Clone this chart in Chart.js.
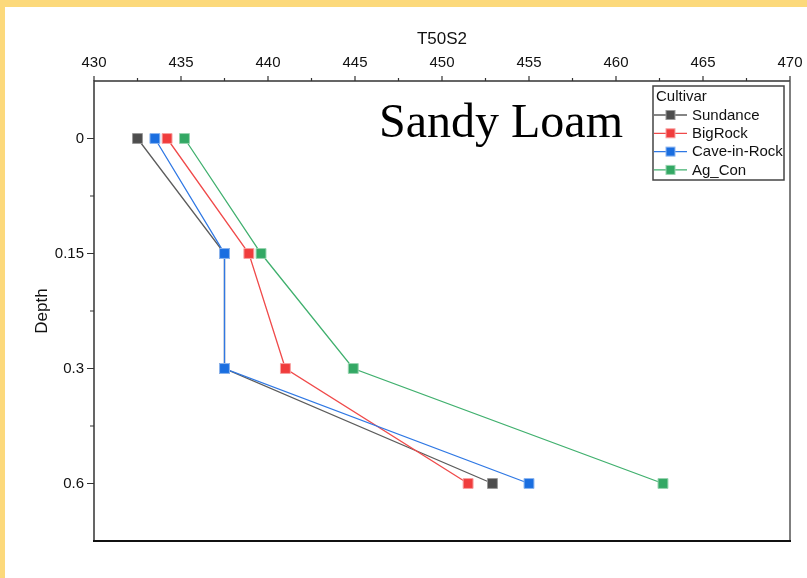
<!DOCTYPE html>
<html>
<head>
<meta charset="utf-8">
<title>T50S2 - Sandy Loam</title>
<script src="https://cdn.jsdelivr.net/npm/chart.js@4.4.1/dist/chart.umd.min.js"></script>
<style>
    html, body { margin: 0; padding: 0; background: #ffffff; }
    #frame {
        position: absolute; left: 0; top: 0;
        width: 807px; height: 578px; box-sizing: border-box;
        border-top: 7px solid #fcd97b; border-left: 5px solid #fcd97b;
        background: #ffffff;
    }
    canvas { display: block; }
</style>
</head>
<body>
<div id="frame"><canvas id="chart" width="802" height="571"></canvas></div>
<script>
// ---------------------------------------------------------------------------
// Data
// ---------------------------------------------------------------------------

const depths = ["0", "0.15", "0.3", "0.6"];
const cultivars = ["Sundance", "BigRock", "Cave-in-Rock", "Ag_Con"];
const sundance = [432.5, 437.5, 437.5, 452.9];
const bigRock = [434.2, 438.9, 441.0, 451.5];
const caveInRock = [433.5, 437.5, 437.5, 455.0];
const agCon = [435.2, 439.6, 444.9, 462.7];
const xTicks = [430, 435, 440, 445, 450, 455, 460, 465, 470];

const lineColors = ["#5c5c5c", "#f04a4a", "#2f78e4", "#40b06e"];
const markerColors = ["#4d4d4d", "#f03c3c", "#1a6ee0", "#33a864"];
const markerEdges = ["#9a9a9a", "#f8a0a0", "#8db6f0", "#98d4b0"];

const FONT = "'Liberation Sans', Arial, sans-serif";

function toPoints(values) {
    return values.map((v, i) => ({ x: v, y: depths[i] }));
}

const seriesValues = [sundance, bigRock, caveInRock, agCon];
// Cave-in-Rock sits on top of Sundance where they overlap
const drawOrder = [3, 2, 0, 1];

const datasets = cultivars.map((name, i) => ({
    label: name,
    data: toPoints(seriesValues[i]),
    borderColor: lineColors[i],
    borderWidth: 1.3,
    pointStyle: "rect",
    pointRadius: 7,
    pointBackgroundColor: markerColors[i],
    pointBorderColor: markerEdges[i],
    pointBorderWidth: 1,
    tension: 0,
    fill: false,
    order: drawOrder[i],
}));

// ---------------------------------------------------------------------------
// Plugins: frame + ticks, legend box, annotation text
// ---------------------------------------------------------------------------

const frameTicks = {
    id: "frameTicks",
    afterDraw(chart) {
        const { ctx, chartArea: a } = chart;
        const xs = chart.scales.x;
        const ys = chart.scales.y;
        ctx.save();
        ctx.strokeStyle = "#333333";
        ctx.lineWidth = 1.2;
        ctx.beginPath();
        for (let v = 430; v <= 470; v += 2.5) {
            const px = xs.getPixelForValue(v);
            const len = v % 5 === 0 ? 5 : 3;
            ctx.moveTo(px, a.top);
            ctx.lineTo(px, a.top - len);
        }
        for (let i = 0; i <= 3; i += 0.5) {
            const py = ys.getPixelForValue(i);
            const len = Number.isInteger(i) ? 7 : 4;
            ctx.moveTo(a.left, py);
            ctx.lineTo(a.left - len, py);
        }
        ctx.stroke();

        // box
        ctx.lineWidth = 1.5;
        ctx.strokeStyle = "#333333";
        ctx.beginPath();
        ctx.moveTo(a.left, a.bottom);
        ctx.lineTo(a.left, a.top);
        ctx.lineTo(a.right, a.top);
        ctx.stroke();
        ctx.strokeStyle = "#555555";
        ctx.beginPath();
        ctx.moveTo(a.right, a.top);
        ctx.lineTo(a.right, a.bottom);
        ctx.stroke();
        ctx.lineWidth = 2;
        ctx.strokeStyle = "#111111";
        ctx.beginPath();
        ctx.moveTo(a.left - 1, a.bottom);
        ctx.lineTo(a.right + 1, a.bottom);
        ctx.stroke();
        ctx.restore();
    },
};

const legendBox = {
    id: "legendBox",
    afterDraw(chart) {
        const { ctx } = chart;
        const left = 648, top = 79, width = 131, height = 94;
        ctx.save();
        ctx.fillStyle = "#ffffff";
        ctx.fillRect(left, top, width, height);
        ctx.strokeStyle = "#444444";
        ctx.lineWidth = 1.5;
        ctx.strokeRect(left, top, width, height);

        ctx.fillStyle = "#111111";
        ctx.font = "15px " + FONT;
        ctx.textBaseline = "middle";
        ctx.textAlign = "left";
        ctx.fillText("Cultivar", left + 3, top + 11);

        chart.data.datasets.forEach((ds, i) => {
            const cy = top + 29 + i * 18.3;
            ctx.strokeStyle = ds.borderColor;
            ctx.lineWidth = 1.3;
            ctx.beginPath();
            ctx.moveTo(left + 1, cy);
            ctx.lineTo(left + 34, cy);
            ctx.stroke();
            ctx.fillStyle = ds.pointBackgroundColor;
            ctx.fillRect(left + 13, cy - 4.5, 9, 9);
            ctx.strokeStyle = ds.pointBorderColor;
            ctx.lineWidth = 1;
            ctx.strokeRect(left + 13, cy - 4.5, 9, 9);
            ctx.fillStyle = "#111111";
            ctx.fillText(ds.label, left + 39, cy + 0.5);
        });
        ctx.restore();
    },
};

const soilLabel = {
    id: "soilLabel",
    afterDraw(chart) {
        const { ctx } = chart;
        ctx.save();
        ctx.fillStyle = "#000000";
        ctx.font = "48px 'Liberation Serif', 'Times New Roman', serif";
        ctx.textBaseline = "alphabetic";
        ctx.textAlign = "left";
        ctx.fillText("Sandy Loam", 374, 130);
        ctx.restore();
    },
};

// ---------------------------------------------------------------------------
// Chart
// ---------------------------------------------------------------------------

const ctx = document.getElementById("chart").getContext("2d");
const chart = new Chart(ctx, {
    type: "line",
    data: { datasets: datasets },
    options: {
        responsive: false,
        animation: false,
        layout: { padding: { left: 0, top: 0, right: 17, bottom: 37 } },
        plugins: {
            legend: { display: false },
            tooltip: { enabled: false },
        },
        scales: {
            x: {
                type: "linear",
                position: "top",
                min: 430,
                max: 470,
                afterBuildTicks: (scale) => {
                    scale.ticks = xTicks.map((v) => ({ value: v }));
                },
                afterFit: (scale) => {
                    scale.height = 74;
                    scale.paddingLeft = 0;
                    scale.paddingRight = 0;
                },
                grid: { display: false, drawTicks: false },
                border: { display: false },
                ticks: {
                    color: "#111111",
                    padding: 9,
                    maxRotation: 0,
                    font: { family: FONT, size: 15 },
                },
                title: {
                    display: true,
                    text: "T50S2",
                    color: "#111111",
                    padding: { top: 22, bottom: 0 },
                    font: { family: FONT, size: 17 },
                },
            },
            y: {
                type: "category",
                labels: depths,
                offset: true,
                afterFit: (scale) => { scale.width = 89; },
                grid: { display: false, drawTicks: false },
                border: { display: false },
                ticks: {
                    color: "#111111",
                    padding: 10,
                    font: { family: FONT, size: 15 },
                },
                title: {
                    display: true,
                    text: "Depth",
                    color: "#111111",
                    padding: { top: 27, bottom: 0 },
                    font: { family: FONT, size: 17 },
                },
            },
        },
    },
    plugins: [frameTicks, legendBox, soilLabel],
});
</script>
</body>
</html>
